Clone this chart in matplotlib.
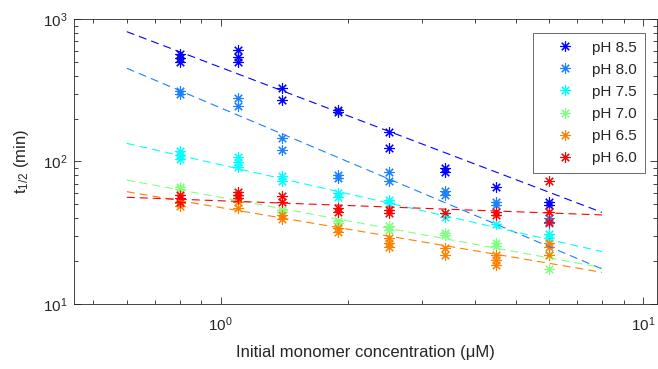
import numpy as np
import matplotlib
matplotlib.use('Agg')
import matplotlib.pyplot as plt

plt.rcParams['font.family'] = ['Liberation Sans', 'DejaVu Sans']
plt.rcParams['mathtext.fontset'] = 'custom'
plt.rcParams['mathtext.rm'] = 'Liberation Sans'
plt.rcParams['mathtext.it'] = 'Liberation Sans'

# half-lives (min) vs initial monomer concentration (uM), replicates per point
x_85 = [0.8, 0.8, 0.8, 1.1, 1.1, 1.1, 1.4, 1.4, 1.9, 1.9, 2.5, 2.5, 3.4, 3.4, 4.5, 6.0, 6.0]
y_85 = [570, 530, 500, 605, 545, 500, 330, 270, 230, 222, 162, 125, 90, 85, 66, 52, 49.5]

x_80 = [0.8, 0.8, 1.1, 1.1, 1.4, 1.4, 1.9, 1.9, 2.5, 2.5, 3.4, 3.4, 4.5, 4.5, 6.0, 6.0]
y_80 = [312, 300, 277, 245, 147, 120, 81, 77, 85, 73, 62, 58, 52, 49.5, 40, 37]

x_75 = [0.8, 0.8, 0.8, 1.1, 1.1, 1.1, 1.4, 1.4, 1.9, 1.9, 2.5, 2.5, 3.4, 4.5, 6.0, 6.0]
y_75 = [119, 111, 104, 108, 99, 91, 79, 73, 60, 56, 54, 51, 41, 36.5, 31, 29]

x_70 = [0.8, 0.8, 1.1, 1.1, 1.4, 1.4, 1.9, 1.9, 2.5, 2.5, 3.4, 3.4, 4.5, 4.5, 6.0, 6.0]
y_70 = [66.5, 64, 57, 55, 46, 44, 38.2, 37, 35, 33, 31.5, 30.5, 27, 25.5, 22, 17.5]

x_65 = [0.8, 0.8, 1.1, 1.1, 1.4, 1.4, 1.9, 1.9, 2.5, 2.5, 2.5, 3.4, 3.4, 4.5, 4.5, 4.5, 6.0, 6.0, 6.0]
y_65 = [51, 48.5, 52, 47, 42, 39.3, 34, 32, 29.2, 27, 25.2, 24.6, 22.1, 22.1, 20.4, 18.8, 27, 25, 22]

x_60 = [0.8, 0.8, 0.8, 1.1, 1.1, 1.1, 1.4, 1.4, 1.9, 1.9, 2.5, 2.5, 3.4, 4.5, 4.5, 6.0, 6.0, 6.0]
y_60 = [58, 55, 52, 61, 58, 55, 57, 52, 47, 44, 46, 43.5, 43.5, 44.5, 42, 73, 44, 37.5]

labels = ['pH 8.5', 'pH 8.0', 'pH 7.5', 'pH 7.0', 'pH 6.5', 'pH 6.0']
colors = ['#0000ff', '#1a80ff', '#00ffff', '#80ff80', '#ff8000', '#ff0000']

# power-law fits t = a * c^b, drawn over the fit range
fit_a = [458, 238, 94.9, 56.0, 47.5, 53.0]
fit_b = [-1.127, -1.252, -0.675, -0.546, -0.503, -0.110]
fit_range = [0.6, 8.0]

xs = [x_85, x_80, x_75, x_70, x_65, x_60]
ys = [y_85, y_80, y_75, y_70, y_65, y_60]

fig = plt.figure(figsize=(6.58, 3.69), dpi=100)
ax = fig.add_axes([0.1125, 0.1762, 0.886, 0.7723])

axcol = '#262626'
asterisk = (8, 2, 0)

for x, y, lab, c in zip(xs, ys, labels, colors):
    ax.plot(x, y, linestyle='none', marker=asterisk, ms=7.5, mew=0.8,
            color=c, label=lab)

xf = np.array(fit_range)
for a, b, c in zip(fit_a, fit_b, colors):
    ax.plot(xf, a * xf ** b, color=c, lw=0.8, dashes=(7.2, 4.5))

ax.set_xscale('log')
ax.set_yscale('log')
ax.set_xlim(0.45, 10.8)
ax.set_ylim(10, 1000)

ax.tick_params(which='both', direction='in', top=True, right=True,
               colors=axcol, labelsize=11, width=0.6)
ax.tick_params(which='major', length=5)
ax.tick_params(which='minor', length=3)
ax.tick_params(axis='x', which='major', pad=8)
ax.tick_params(axis='y', which='major', pad=5)
for s in ax.spines.values():
    s.set_color(axcol)
    s.set_linewidth(0.6)

ax.set_xlabel('Initial monomer concentration (μM)', fontsize=12, color=axcol,
              labelpad=8)
ax.set_ylabel('t$_{1/2}$ (min)', fontsize=12, color=axcol, labelpad=8)

leg = ax.legend(loc='upper right', bbox_to_anchor=(0.979, 0.951), fontsize=11,
                frameon=True, fancybox=False, handletextpad=0.2,
                labelspacing=0.53, borderpad=0.5, handlelength=3.2,
                borderaxespad=0)
leg.get_frame().set_edgecolor(axcol)
leg.get_frame().set_linewidth(0.6)
for t in leg.get_texts():
    t.set_color(axcol)

fig.savefig('out.png', dpi=100)
